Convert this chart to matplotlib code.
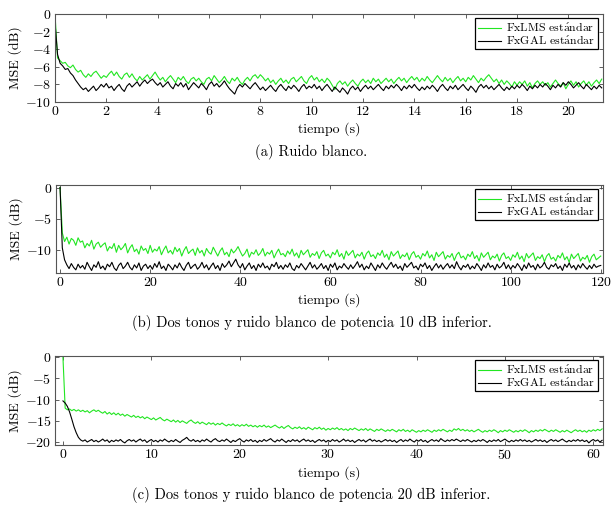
import numpy as np
import matplotlib
matplotlib.use("Agg")
import matplotlib.pyplot as plt

plt.rcParams["font.family"] = ["cmr10", "DejaVu Serif"]
plt.rcParams["mathtext.fontset"] = "cm"
plt.rcParams["axes.formatter.use_mathtext"] = True
plt.rcParams["axes.unicode_minus"] = True

# ---- data ----
# (a) Ruido blanco, dt = 0.1 s
a_dt = 0.1
a_lms = [
    0, -5.0, -5.3, -5.6, -5.5, -5.9, -6.1, -5.8, -6.3, -6.6,
    -6.4, -6.9, -7.2, -6.8, -7.1, -6.7, -6.5, -6.9, -7.3, -7.0,
    -7.2, -6.8, -6.5, -7.0, -6.6, -7.1, -7.4, -6.9, -6.7, -7.2,
    -6.8, -7.3, -7.6, -7.1, -7.5, -7.2, -6.9, -7.4, -7.0, -6.6,
    -7.1, -7.5, -7.2, -7.7, -7.3, -7.0, -7.4, -7.8, -7.2, -7.5,
    -7.1, -7.6, -7.9, -7.4, -7.2, -7.6, -7.3, -7.7, -8.0, -7.4,
    -7.2, -7.6, -7.0, -7.4, -7.8, -7.5, -7.1, -7.6, -7.9, -7.3,
    -7.6, -7.2, -7.7, -8.0, -7.5, -7.2, -7.6, -7.1, -6.9, -7.3,
    -6.9, -7.2, -7.6, -7.3, -7.8, -7.5, -8.0, -7.6, -7.3, -7.8,
    -7.5, -7.9, -7.4, -7.2, -7.7, -7.4, -7.1, -7.6, -7.9, -7.3,
    -7.0, -7.5, -7.2, -7.7, -7.4, -7.8, -7.3, -7.6, -8.1, -8.6,
    -7.9, -7.6, -8.0, -7.7, -8.2, -7.8, -7.5, -7.9, -8.2, -7.7,
    -7.4, -7.8, -7.5, -7.9, -7.3, -7.7, -7.4, -7.9, -7.6, -7.3,
    -7.7, -7.4, -7.9, -7.5, -7.2, -7.6, -7.3, -7.8, -7.4, -7.1,
    -7.5, -7.2, -7.7, -7.3, -7.6, -7.1, -7.5, -7.8, -7.4, -7.0,
    -7.4, -7.7, -7.2, -7.6, -7.3, -7.8, -7.4, -7.1, -7.6, -7.3,
    -7.7, -7.2, -7.5, -7.0, -7.4, -7.8, -7.3, -7.6, -7.2, -6.9,
    -7.3, -7.7, -7.4, -7.9, -7.5, -8.0, -7.6, -7.9, -8.3, -7.7,
    -8.1, -7.7, -8.0, -7.6, -8.2, -7.8, -8.4, -7.9, -7.6, -8.0,
    -7.7, -8.1, -7.8, -8.3, -7.9, -7.5, -7.9, -8.2, -7.8, -8.5,
    -8.0, -7.6, -8.1, -7.7, -8.3, -7.9, -7.6, -8.1, -7.7, -8.2,
    -7.8, -7.5, -7.9, -7.4,
]
a_gal = [
    -1.0, -4.6, -5.6, -5.9, -6.3, -6.2, -6.7, -7.0, -7.5, -7.9,
    -8.3, -8.6, -8.4, -8.8, -8.5, -8.2, -8.7, -8.4, -8.0, -8.3,
    -7.9, -8.4, -8.2, -8.7, -8.3, -8.0, -8.5, -8.8, -8.2, -7.9,
    -8.3, -8.0, -7.7, -8.2, -7.8, -7.5, -7.9, -7.6, -7.4, -7.8,
    -8.1, -7.8, -8.3, -8.0, -7.7, -8.2, -8.5, -7.9, -8.2, -7.8,
    -8.3, -7.9, -8.6, -8.2, -7.8, -8.1, -8.4, -7.9, -8.2, -8.6,
    -8.0, -7.7, -8.2, -7.9, -8.3, -8.0, -7.6, -8.1, -8.5, -8.8,
    -9.1, -8.4, -8.0, -8.3, -7.9, -8.2, -8.5, -8.1, -7.8, -8.2,
    -8.6, -8.3, -8.7, -8.4, -8.1, -8.5, -8.8, -8.3, -8.0, -8.4,
    -8.7, -8.2, -8.5, -8.1, -8.4, -8.8, -8.3, -8.0, -8.5, -8.2,
    -8.4, -8.0, -8.5, -8.2, -8.7, -8.3, -8.0, -8.4, -8.8, -8.3,
    -8.6, -8.9, -8.4, -8.7, -9.1, -8.5, -8.2, -8.6, -8.3, -8.8,
    -8.4, -8.1, -8.5, -8.2, -8.6, -8.3, -8.0, -8.4, -8.7, -8.2,
    -8.5, -8.1, -8.4, -8.0, -8.3, -8.7, -8.2, -8.5, -8.1, -8.4,
    -8.0, -8.4, -8.7, -8.3, -8.6, -8.2, -8.5, -8.1, -8.4, -8.8,
    -8.3, -8.0, -8.4, -8.7, -8.2, -8.5, -8.1, -8.6, -8.3, -8.0,
    -8.4, -8.7, -8.2, -8.5, -8.9, -8.3, -8.0, -8.4, -8.1, -8.5,
    -8.2, -8.6, -8.3, -8.0, -8.4, -8.7, -8.3, -8.6, -8.2, -8.5,
    -8.1, -8.4, -8.0, -8.3, -8.7, -8.2, -8.5, -8.1, -8.4, -8.0,
    -8.3, -7.9, -8.2, -8.6, -8.1, -8.4, -8.0, -8.3, -7.8, -8.1,
    -7.7, -8.0, -8.4, -8.1, -7.8, -8.2, -8.5, -8.0, -8.3, -8.6,
    -8.2, -8.5, -8.1, -8.4,
]

# (b) Dos tonos, ruido 10 dB inferior, dt = 0.5 s
b_dt = 0.5
b_lms = [
    0, -7.2, -8.6, -7.9, -9.0, -8.1, -8.4, -9.2, -8.0, -8.7,
    -8.5, -9.6, -8.9, -9.3, -8.4, -9.8, -9.0, -8.7, -9.5, -9.1,
    -8.8, -10.1, -9.4, -9.7, -8.9, -10.3, -9.2, -9.9, -9.5, -8.9,
    -10.4, -9.6, -9.1, -10.2, -9.8, -10.6, -9.3, -10.0, -9.7, -10.5,
    -9.2, -10.3, -9.8, -10.1, -9.4, -10.7, -9.9, -9.3, -10.4, -10.0,
    -10.6, -9.5, -10.2, -9.7, -10.9, -10.0, -9.4, -10.5, -10.1, -9.8,
    -10.8, -9.6, -10.4, -10.0, -10.9, -9.7, -10.3, -10.6, -9.5, -10.2,
    -10.9, -10.1, -9.6, -10.7, -10.3, -11.0, -9.8, -10.4, -10.0, -9.4,
    -10.2, -10.9, -10.5, -9.8, -11.1, -10.3, -10.6, -9.9, -10.8, -10.4,
    -9.7, -10.9, -10.3, -10.6, -10.0, -11.2, -10.4, -9.8, -10.7, -10.5,
    -11.0, -10.1, -10.6, -9.8, -10.9, -10.4, -11.2, -10.0, -10.7, -10.3,
    -9.9, -11.1, -10.5, -10.8, -10.2, -11.3, -10.4, -10.0, -10.9, -10.6,
    -11.2, -10.3, -10.7, -9.9, -11.0, -10.5, -11.4, -10.1, -10.8, -10.4,
    -10.0, -11.2, -10.6, -10.9, -10.3, -11.4, -10.5, -10.1, -11.0, -10.7,
    -11.3, -10.4, -10.8, -10.0, -11.1, -10.6, -11.5, -10.2, -10.9, -10.5,
    -10.1, -11.3, -10.7, -11.0, -10.4, -11.5, -10.6, -10.2, -11.1, -10.8,
    -11.4, -10.5, -10.9, -10.1, -11.2, -10.7, -11.6, -10.3, -11.0, -10.6,
    -10.2, -11.4, -10.8, -11.1, -10.5, -11.6, -10.7, -10.3, -11.2, -10.9,
    -11.5, -10.6, -11.0, -10.2, -11.3, -10.8, -11.7, -10.4, -11.1, -10.7,
    -10.3, -11.5, -10.9, -11.2, -10.6, -11.7, -10.8, -10.4, -11.3, -11.0,
    -11.6, -10.7, -11.1, -10.3, -11.4, -10.9, -11.8, -10.5, -11.2, -10.8,
    -10.4, -11.6, -11.0, -11.3, -10.7, -11.8, -10.9, -10.5, -11.4, -11.1,
    -11.7, -10.8, -11.2, -10.4, -11.5, -11.0, -11.9, -10.6, -11.3, -10.9,
    -10.5, -11.7, -11.1, -11.4, -10.8, -11.9, -11.0, -10.6, -11.5, -11.2,
    -10.9,
]
b_gal = [
    0, -9.6, -11.5, -12.3, -12.9, -12.1, -12.7, -13.1, -12.2, -12.8,
    -12.4, -13.0, -11.9, -12.6, -13.2, -12.3, -12.7, -11.8, -12.9, -12.5,
    -13.1, -12.2, -12.6, -11.9, -12.8, -13.2, -12.4, -12.0, -12.9, -12.5,
    -11.9, -12.7, -13.1, -12.3, -12.8, -12.0, -13.2, -12.5, -12.2, -12.9,
    -12.4, -13.0, -12.1, -12.7, -11.8, -12.9, -12.5, -13.2, -12.2, -12.6,
    -13.1, -12.3, -12.8, -12.0, -12.7, -13.2, -12.4, -11.9, -12.9, -12.5,
    -12.2, -13.0, -12.6, -11.9, -12.8, -12.3, -13.1, -12.5, -12.0, -12.9,
    -12.4, -13.2, -12.1, -12.7, -12.3, -11.7, -12.6, -12.0, -11.4, -12.3,
    -12.8, -12.1, -13.1, -12.5, -12.0, -12.9, -12.4, -13.2, -12.2, -12.7,
    -12.0, -12.8, -12.5, -13.1, -12.2, -12.6, -11.9, -12.9, -12.4, -13.0,
    -12.3, -12.7, -12.0, -12.9, -13.2, -12.4, -12.8, -12.1, -12.6, -13.1,
    -12.5, -11.9, -12.8, -12.3, -13.0, -12.6, -12.1, -12.9, -12.4, -13.2,
    -12.2, -12.7, -12.0, -13.1, -12.5, -12.8, -12.1, -12.6, -13.0, -12.3,
    -12.9, -12.4, -11.8, -12.7, -12.2, -13.1, -12.5, -12.9, -12.0, -12.6,
    -13.2, -12.3, -12.8, -12.0, -12.6, -13.0, -12.4, -11.9, -12.7, -12.2,
    -12.9, -12.5, -13.2, -12.1, -12.7, -12.3, -11.9, -12.8, -12.5, -13.1,
    -12.2, -12.6, -12.0, -12.9, -12.4, -13.2, -12.6, -12.1, -12.8, -12.3,
    -13.0, -12.5, -12.1, -12.8, -12.3, -12.9, -11.8, -12.6, -13.1, -12.4,
    -12.7, -12.2, -13.0, -12.5, -12.9, -12.1, -12.6, -13.2, -12.3, -12.8,
    -12.0, -12.7, -12.4, -13.1, -12.2, -12.8, -12.5, -11.9, -12.9, -12.3,
    -13.0, -12.4, -12.8, -12.1, -12.6, -13.2, -12.3, -12.9, -12.0, -12.7,
    -12.4, -13.1, -12.2, -12.8, -12.5, -11.9, -12.7, -13.0, -12.3, -12.6,
    -12.1, -12.9, -12.5, -13.2, -12.2, -12.7, -12.0, -12.8, -12.4, -13.1,
    -12.3, -12.8, -12.1, -12.6, -13.0, -12.4, -12.9, -12.2, -12.7, -12.5,
    -12.4,
]

# (c) Dos tonos, ruido 20 dB inferior, dt = 0.25 s
c_dt = 0.25
c_lms = [
    0, -12.0, -12.4, -12.2, -12.6, -12.3, -12.7, -12.4,
    -12.8, -12.5, -12.9, -12.6, -13.1, -12.7, -12.4, -12.8,
    -12.5, -12.9, -13.2, -12.8, -13.4, -13.0, -13.5, -13.1,
    -13.6, -13.2, -13.7, -13.4, -13.9, -13.5, -13.8, -14.1,
    -13.7, -14.2, -13.9, -14.3, -14.0, -14.5, -14.1, -14.4,
    -14.7, -14.3, -14.8, -14.5, -14.2, -14.7, -15.0, -14.6,
    -14.9, -15.2, -14.8, -15.3, -14.9, -15.4, -15.0, -15.3,
    -15.6, -15.1, -14.8, -15.3, -15.6, -15.2, -15.7, -15.3,
    -15.6, -15.9, -15.4, -15.8, -15.5, -16.0, -15.6, -15.9,
    -15.5, -15.9, -16.2, -15.8, -16.1, -15.7, -16.2, -15.9,
    -16.3, -15.9, -16.2, -15.8, -16.3, -16.0, -16.4, -16.1,
    -16.5, -16.1, -16.4, -16.0, -16.5, -16.2, -16.6, -16.3,
    -16.0, -16.4, -16.7, -16.3, -16.8, -16.4, -16.1, -16.6,
    -16.9, -16.5, -16.8, -16.4, -16.9, -16.6, -17.0, -16.5,
    -16.8, -17.1, -16.6, -16.9, -16.5, -17.0, -16.7, -17.2,
    -16.8, -17.1, -16.7, -17.0, -16.6, -17.1, -16.8, -17.2,
    -16.9, -17.3, -16.8, -17.1, -16.7, -17.0, -17.3, -16.9,
    -17.2, -16.8, -17.3, -16.9, -17.2, -17.5, -17.0, -17.3,
    -16.9, -17.2, -17.5, -17.1, -17.4, -17.0, -17.3, -17.6,
    -17.1, -17.4, -17.0, -17.5, -17.2, -17.6, -17.1, -17.4,
    -17.7, -17.3, -17.6, -17.2, -17.5, -17.1, -17.4, -17.7,
    -17.2, -17.5, -17.1, -17.4, -17.0, -17.3, -17.6, -17.2,
    -17.5, -16.9, -17.2, -16.8, -17.3, -17.0, -17.4, -17.1,
    -17.5, -17.2, -17.6, -17.3, -17.0, -17.4, -17.7, -17.3,
    -17.6, -17.2, -17.5, -17.1, -17.4, -17.8, -17.3, -17.6,
    -17.2, -17.5, -17.1, -17.4, -17.7, -17.3, -17.6, -17.2,
    -17.5, -17.1, -17.4, -17.8, -17.3, -17.6, -17.2, -17.5,
    -17.1, -17.4, -17.0, -17.3, -17.6, -17.2, -17.5, -17.1,
    -17.4, -17.7, -17.3, -17.6, -17.2, -17.5, -17.8, -17.4,
    -17.1, -17.5, -17.2, -17.6, -17.3, -17.7, -17.2, -17.5,
    -17.1, -17.4, -17.0, -17.3, -16.9,
]
c_gal = [
    -10.3, -10.8, -11.6, -12.9, -14.6, -16.4, -17.8, -18.9,
    -19.5, -19.8, -19.5, -20.0, -19.7, -19.4, -19.9, -19.6,
    -20.0, -19.7, -19.3, -19.8, -19.5, -20.1, -19.6, -19.9,
    -19.5, -19.8, -19.4, -19.9, -20.2, -19.7, -19.4, -19.8,
    -19.5, -20.0, -19.6, -19.3, -19.8, -19.5, -20.1, -19.7,
    -19.4, -19.9, -19.6, -20.0, -19.5, -19.8, -19.3, -19.7,
    -20.0, -19.6, -19.9, -19.4, -19.8, -20.1, -19.6, -19.3,
    -18.9, -19.5, -19.8, -19.4, -19.9, -19.6, -20.0, -19.5,
    -19.8, -19.3, -19.7, -20.0, -19.5, -19.2, -19.7, -19.9,
    -19.5, -19.8, -19.3, -19.7, -20.1, -19.6, -19.9, -19.5,
    -19.2, -19.7, -20.0, -19.5, -19.8, -19.4, -19.9, -19.6,
    -20.1, -19.6, -19.9, -19.4, -19.8, -19.5, -19.2, -19.7,
    -20.0, -19.5, -19.8, -19.3, -19.7, -20.1, -19.6, -19.9,
    -19.4, -19.8, -19.5, -20.0, -19.6, -19.3, -19.8, -19.5,
    -19.9, -19.6, -20.1, -19.7, -19.4, -19.8, -19.5, -20.0,
    -19.6, -19.9, -19.4, -19.8, -19.5, -20.0, -19.7, -19.3,
    -19.8, -19.5, -19.9, -19.6, -20.1, -19.7, -19.4, -19.8,
    -19.5, -20.0, -19.6, -19.3, -19.8, -19.5, -19.9, -19.6,
    -20.0, -19.7, -19.4, -19.8, -19.5, -19.9, -19.6, -20.1,
    -19.7, -19.4, -19.9, -19.5, -19.8, -19.3, -19.7, -20.0,
    -19.5, -19.8, -19.4, -19.9, -19.6, -20.1, -19.7, -19.4,
    -19.8, -19.5, -19.9, -19.2, -19.6, -19.9, -19.5, -19.8,
    -19.4, -19.7, -19.3, -19.6, -19.9, -19.5, -19.8, -19.4,
    -19.7, -20.0, -19.6, -19.9, -19.5, -19.8, -19.4, -19.7,
    -20.1, -19.6, -19.9, -19.5, -19.8, -19.4, -19.9, -19.6,
    -19.3, -19.7, -20.0, -19.6, -19.9, -19.5, -19.8, -19.4,
    -19.8, -19.5, -19.9, -19.6, -20.0, -19.7, -19.4, -19.8,
    -19.5, -19.9, -19.6, -20.1, -19.7, -19.4, -19.8, -19.5,
    -19.9, -19.6, -19.3, -19.7, -20.0, -19.6, -19.9, -19.5,
    -19.8, -19.4, -19.8, -19.5, -19.9, -19.6, -20.2, -19.7,
    -19.4, -19.8, -19.5, -20.0, -19.6,
]

labels = [r"FxLMS est$\acute{\mathrm{a}}$ndar", r"FxGAL est$\acute{\mathrm{a}}$ndar"]
captions = [
    "(a) Ruido blanco.",
    "(b) Dos tonos y ruido blanco de potencia 10 dB inferior.",
    "(c) Dos tonos y ruido blanco de potencia 20 dB inferior.",
]

panels = [
    dict(dt=a_dt, lms=a_lms, gal=a_gal, xlim=(0, 21.35), ylim=(-10, 0),
         xticks=np.arange(0, 21, 2), yticks=[0, -2, -4, -6, -8, -10]),
    dict(dt=b_dt, lms=b_lms, gal=b_gal, xlim=(-0.9, 120.5), ylim=(-13.6, 0.4),
         xticks=np.arange(0, 121, 20), yticks=[0, -5, -10]),
    dict(dt=c_dt, lms=c_lms, gal=c_gal, xlim=(-0.9, 61.1), ylim=(-20.7, 0.3),
         xticks=np.arange(0, 61, 10), yticks=[0, -5, -10, -15, -20]),
]

green = "#22e622"
W, H = 611, 507
fig = plt.figure(figsize=(W / 100, H / 100), dpi=100)

# axes boxes in pixels: (left, top, right, bottom)
boxes = [(55, 14, 603, 102), (56, 185, 603, 273), (55, 356, 603, 445)]

for p, box, cap in zip(panels, boxes, captions):
    l, t, r, b = box
    ax = fig.add_axes([l / W, 1 - b / H, (r - l) / W, (b - t) / H])
    tl = np.arange(len(p["lms"])) * p["dt"]
    tg = np.arange(len(p["gal"])) * p["dt"]
    ax.plot(tl, p["lms"], color=green, lw=0.8, label=labels[0])
    ax.plot(tg, p["gal"], color="black", lw=0.8, label=labels[1])
    ax.set_xlim(*p["xlim"])
    ax.set_ylim(*p["ylim"])
    ax.set_xticks(p["xticks"])
    ax.set_yticks(p["yticks"])
    ax.tick_params(direction="in", top=True, right=True, length=3, width=0.6,
                   labelsize=10, pad=2.5, color="#444444")
    for s in ax.spines.values():
        s.set_color("#555555")
        s.set_linewidth(0.8)
    ax.set_xlabel("tiempo (s)", fontsize=10, labelpad=3)
    ax.set_ylabel("MSE (dB)", fontsize=10)
    ax.yaxis.set_label_coords(-0.06, 0.5)
    leg = ax.legend(loc="upper right", bbox_to_anchor=(0.99, 0.955),
                    borderaxespad=0, fontsize=8.5, fancybox=False,
                    edgecolor="black", framealpha=1, handlelength=2.0,
                    handleheight=0.5, handletextpad=0.4, labelspacing=0.0,
                    borderpad=0.2)
    leg.get_frame().set_linewidth(0.9)
    fig.text(0.51, 1 - (b + 50) / H, cap, ha="center", va="center", fontsize=10.5)

fig.savefig("out.png", dpi=100)
